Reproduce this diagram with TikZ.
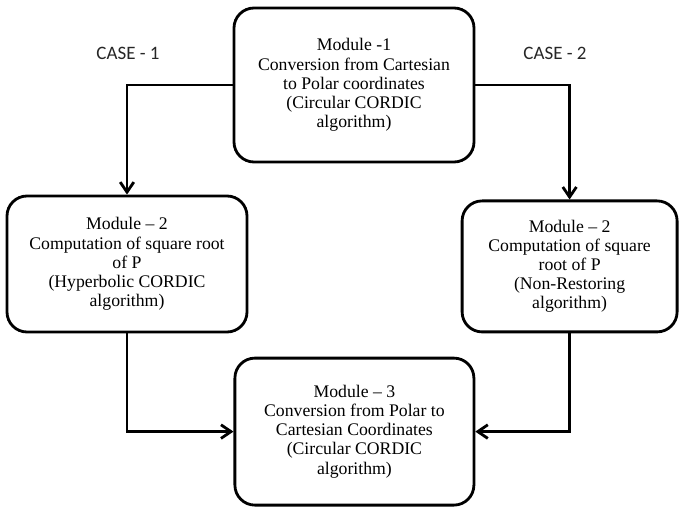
\documentclass[tikz,border=0pt]{standalone}
\usepackage{fontspec}
\setmainfont{Liberation Serif}
\newfontfamily\casefont{Carlito}
\usetikzlibrary{arrows.meta}

\begin{document}
\begin{tikzpicture}[>=Stealth, auto]

    \tikzstyle{module} = [rectangle, rounded corners=0.5cm, draw=black, line width=2pt, align=center, font=\fontsize{12.6}{13.6}\selectfont]
    \tikzstyle{arrow} = [line width=2pt, -{Straight Barb[length=2.5mm, width=3.4mm]}]
    \tikzstyle{case} = [font=\casefont\fontsize{13.5}{15}\selectfont, text=black!85]

    \useasboundingbox (0,0) rectangle (17,-12.7);

    % Nodes
    \node (mod1) [module, minimum width=6cm, minimum height=3.85cm] at (8.85,-2.125) {Module -1\\Conversion from Cartesian\\to Polar coordinates\\(Circular CORDIC\\algorithm)};
    \node (mod2a) [module, minimum width=6cm, minimum height=3.4cm] at (3.175,-6.6) {Module -- 2\\Computation of square root\\of P\\(Hyperbolic CORDIC\\algorithm)};
    \node (mod2b) [module, minimum width=5.375cm, minimum height=3.275cm] at (14.24,-6.66) {Module -- 2\\Computation of square\\root of P\\(Non-Restoring\\algorithm)};
    \node (mod3) [module, minimum width=5.975cm, minimum height=3.675cm] at (8.86,-10.79) {Module -- 3\\Conversion from Polar to\\Cartesian Coordinates\\(Circular CORDIC\\algorithm)};

    \node (case1) [case] at (3.2,-1.325) {CASE - 1};
    \node (case2) [case] at (13.875,-1.325) {CASE - 2};

    % Arrows
    \draw [arrow] (mod1.west) -| (mod2a.north);
    \draw [arrow] (mod1.east) -| (mod2b.north);
    \draw [arrow] (mod2a.south) |- (mod3.west);
    \draw [arrow] (mod2b.south) |- (mod3.east);

\end{tikzpicture}
\end{document}
